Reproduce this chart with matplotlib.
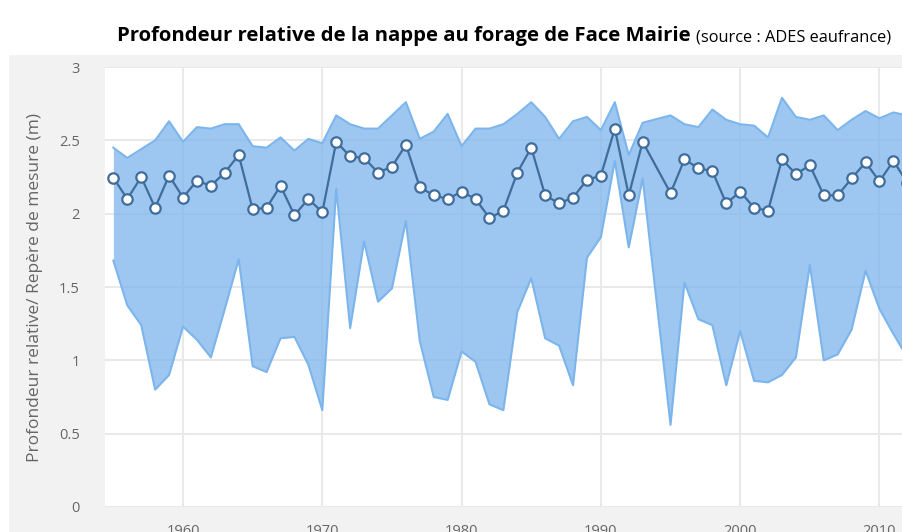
import numpy as np
import matplotlib
matplotlib.use("Agg")
import matplotlib.pyplot as plt
from matplotlib.patches import Rectangle

# ─── DATA ──────────────────────────────────────────────────────────────────────
# 1994 has no measurement: the series simply jumps from 1993 to 1995
years = list(range(1955, 1994)) + list(range(1995, 2013))

depth_mean = [2.245, 2.10, 2.25, 2.04, 2.26, 2.11, 2.225, 2.19, 2.28, 2.40,
              2.03, 2.04, 2.19, 1.99, 2.10, 2.01, 2.49, 2.39, 2.38, 2.28,
              2.32, 2.47, 2.18, 2.125, 2.10, 2.15, 2.10, 1.97, 2.02, 2.28,
              2.45, 2.125, 2.07, 2.11, 2.23, 2.26, 2.58, 2.125, 2.49,
              2.14, 2.37, 2.31, 2.29, 2.07, 2.15, 2.04, 2.02, 2.37, 2.27,
              2.33, 2.125, 2.125, 2.24, 2.35, 2.22, 2.36, 2.21]

depth_max = [2.45, 2.38, 2.44, 2.50, 2.63, 2.49, 2.59, 2.58, 2.61, 2.61,
             2.46, 2.45, 2.52, 2.43, 2.51, 2.48, 2.67, 2.61, 2.58, 2.58,
             2.67, 2.76, 2.51, 2.56, 2.68, 2.46, 2.58, 2.58, 2.61, 2.68,
             2.76, 2.66, 2.51, 2.63, 2.66, 2.57, 2.76, 2.40, 2.62,
             2.67, 2.61, 2.59, 2.71, 2.64, 2.61, 2.60, 2.52, 2.79, 2.66,
             2.64, 2.67, 2.57, 2.64, 2.70, 2.65, 2.69, 2.67]

depth_min = [1.68, 1.375, 1.24, 0.80, 0.90, 1.23, 1.14, 1.02, 1.35, 1.69,
             0.96, 0.92, 1.15, 1.16, 0.97, 0.66, 2.17, 1.22, 1.81, 1.40,
             1.49, 1.95, 1.13, 0.75, 0.73, 1.06, 0.99, 0.70, 0.66, 1.33,
             1.56, 1.15, 1.10, 0.83, 1.70, 1.84, 2.36, 1.77, 2.24,
             0.56, 1.53, 1.28, 1.24, 0.83, 1.20, 0.86, 0.85, 0.90, 1.02,
             1.65, 1.00, 1.04, 1.21, 1.61, 1.35, 1.18, 1.02]

x_ticks = [1960, 1970, 1980, 1990, 2000, 2010]
y_ticks = [0, 0.5, 1, 1.5, 2, 2.5, 3]
y_ticklabels = ["0", "0.5", "1", "1.5", "2", "2.5", "3"]

TITLE = "Profondeur relative de la nappe au forage de Face Mairie"
SOURCE = "(source : ADES eaufrance)"
Y_LABEL = "Profondeur relative/ Repère de mesure (m)"

# ─── STYLE ─────────────────────────────────────────────────────────────────────
BAND_COLOR = "#7cb5ec"
LINE_COLOR = "#3f6d9c"
GRID_COLOR = "#e9e9e9"
PANEL_BG = "#f2f2f2"
TEXT_GRAY = "#666666"

plt.rcParams["font.family"] = ["Open Sans", "DejaVu Sans"]

W, H = 902, 532
fig = plt.figure(figsize=(W / 100, H / 100), dpi=100, facecolor="white")

# grey chart panel below the title (kept behind the axes)
fig.patches.append(Rectangle((9 / W, 0), 1 - 9 / W, (H - 55) / H,
                             transform=fig.transFigure, facecolor=PANEL_BG,
                             edgecolor="none", zorder=-10))

# plot area runs a little past the right edge (screenshot is cropped)
left, right, top, bottom = 105, 915, 67, 507
ax = fig.add_axes([left / W, (H - bottom) / H, (right - left) / W, (bottom - top) / H])
ax.set_zorder(1)
ax.set_facecolor("white")

ax.fill_between(years, depth_min, depth_max, color=BAND_COLOR, alpha=0.75,
                linewidth=0, zorder=2)
ax.plot(years, depth_max, color=BAND_COLOR, linewidth=1.5, zorder=3)
ax.plot(years, depth_min, color=BAND_COLOR, linewidth=1.5, zorder=3)
ax.plot(years, depth_mean, color=LINE_COLOR, linewidth=1.6, marker="o",
        markersize=7.5, markerfacecolor="white", markeredgecolor=LINE_COLOR,
        markeredgewidth=1.6, zorder=4)

ax.set_xlim(1954.4, 2012.55)
ax.set_ylim(0, 3)
ax.set_xticks(x_ticks)
ax.set_yticks(y_ticks)
ax.set_yticklabels(y_ticklabels)
ax.grid(True, color=GRID_COLOR, linewidth=1.5, zorder=1)
ax.set_axisbelow(True)
for s in ax.spines.values():
    s.set_visible(False)
ax.tick_params(axis="both", length=0, labelcolor=TEXT_GRAY, labelsize=10.5)
ax.tick_params(axis="y", pad=18)
ax.tick_params(axis="x", pad=12)
for lbl in ax.get_yticklabels():
    lbl.set_horizontalalignment("right")

ax.set_ylabel(Y_LABEL, color=TEXT_GRAY, fontsize=12.5)
ax.yaxis.set_label_coords(-(left - 43) / (right - left), 0.5)

# title: bold part then the source note in regular weight
t1 = fig.text(117 / W, (H - 41) / H, TITLE, fontsize=14.6, fontweight="bold",
              color="black", ha="left", va="baseline")
ax.annotate(SOURCE, xy=(1, 0), xycoords=t1, xytext=(4, 0),
            textcoords="offset points", fontsize=11.8, color="black",
            ha="left", va="bottom", annotation_clip=False)

plt.savefig("out.png", dpi=100, facecolor="white")
plt.close()
